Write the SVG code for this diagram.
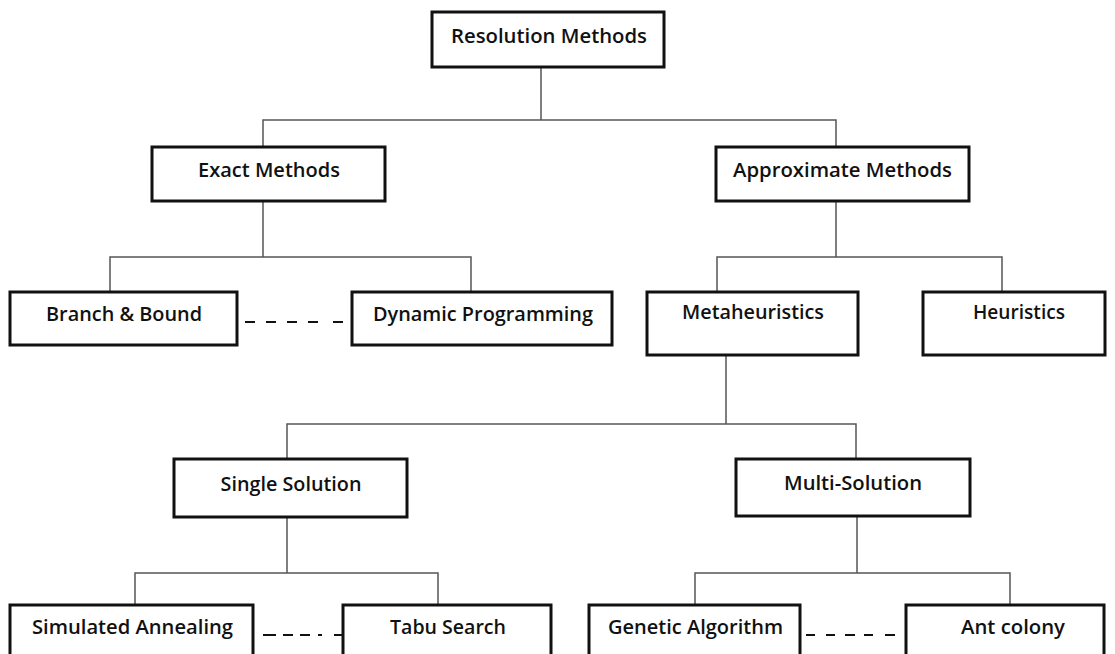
<svg xmlns="http://www.w3.org/2000/svg" width="1115" height="654" viewBox="0 0 1115 654">
<style>
.box{fill:#fff;stroke:#111;stroke-width:3}
.lbl{font-family:"Open Sans","Liberation Sans",sans-serif;font-weight:600;font-size:19px;fill:#111;text-anchor:middle}
.con{fill:none;stroke:#555;stroke-width:1.5}
.dash{fill:none;stroke:#111;stroke-width:2}
</style>
<rect width="1115" height="654" fill="#fff"/>
<g id="connectors">
<path class="con" d="M541 67V120M263 147V120H836V147"/>
<path class="con" d="M263 201V257M110 292V257H471V292"/>
<path class="con" d="M836 201V257M717 292V257H1002V292"/>
<path class="con" d="M726 355V424M287 459V424H856V459"/>
<path class="con" d="M287 517V573M135 605V573H438V605"/>
<path class="con" d="M857 516V573M695 605V573H1010V605"/>
<path class="dash" d="M245 322h10M266 322h10M287 322h10M308 322h10M333 322h10"/>
<path class="dash" d="M263 635h13M283 635h10M300 635h10M318 635h4M334 635h9"/>
<path class="dash" d="M806 635h9M826 635h9M845 635h10M864 635h9M885 635h10"/>
<path class="con" d="M373 338V345"/>
</g>
<g id="n-resolution"><rect class="box" x="432" y="12" width="232" height="55"/><text class="lbl" x="549" y="43" textLength="196" lengthAdjust="spacingAndGlyphs">Resolution Methods</text></g>
<g id="n-exact"><rect class="box" x="152" y="147" width="233" height="54"/><text class="lbl" x="269" y="177" textLength="142" lengthAdjust="spacingAndGlyphs">Exact Methods</text></g>
<g id="n-approx"><rect class="box" x="716" y="147" width="253" height="54"/><text class="lbl" x="842.5" y="177" textLength="219" lengthAdjust="spacingAndGlyphs">Approximate Methods</text></g>
<g id="n-branch"><rect class="box" x="10" y="292" width="227" height="53"/><text class="lbl" x="124" y="321" textLength="156" lengthAdjust="spacingAndGlyphs">Branch &amp; Bound</text></g>
<g id="n-dp"><rect class="box" x="352" y="292" width="260" height="53"/><text class="lbl" x="483" y="321" textLength="220" lengthAdjust="spacingAndGlyphs">Dynamic Programming</text></g>
<g id="n-meta"><rect class="box" x="647" y="292" width="211" height="63"/><text class="lbl" x="753" y="319" textLength="142" lengthAdjust="spacingAndGlyphs">Metaheuristics</text></g>
<g id="n-heur"><rect class="box" x="923" y="292" width="182" height="63"/><text class="lbl" x="1019" y="319" textLength="92" lengthAdjust="spacingAndGlyphs">Heuristics</text></g>
<g id="n-single"><rect class="box" x="174" y="459" width="233" height="58"/><text class="lbl" x="291" y="491" textLength="141" lengthAdjust="spacingAndGlyphs">Single Solution</text></g>
<g id="n-multi"><rect class="box" x="736" y="459" width="234" height="57"/><text class="lbl" x="853" y="490" textLength="138" lengthAdjust="spacingAndGlyphs">Multi-Solution</text></g>
<g id="n-sa"><rect class="box" x="10" y="605" width="243" height="65"/><text class="lbl" x="132.5" y="634" textLength="201" lengthAdjust="spacingAndGlyphs">Simulated Annealing</text></g>
<g id="n-tabu"><rect class="box" x="343" y="605" width="208" height="65"/><text class="lbl" x="448" y="634" textLength="116" lengthAdjust="spacingAndGlyphs">Tabu Search</text></g>
<g id="n-ga"><rect class="box" x="589" y="605" width="211" height="65"/><text class="lbl" x="695.5" y="634" textLength="175" lengthAdjust="spacingAndGlyphs">Genetic Algorithm</text></g>
<g id="n-ant"><rect class="box" x="906" y="605" width="198" height="65"/><text class="lbl" x="1013" y="634" textLength="104" lengthAdjust="spacingAndGlyphs">Ant colony</text></g>
</svg>
